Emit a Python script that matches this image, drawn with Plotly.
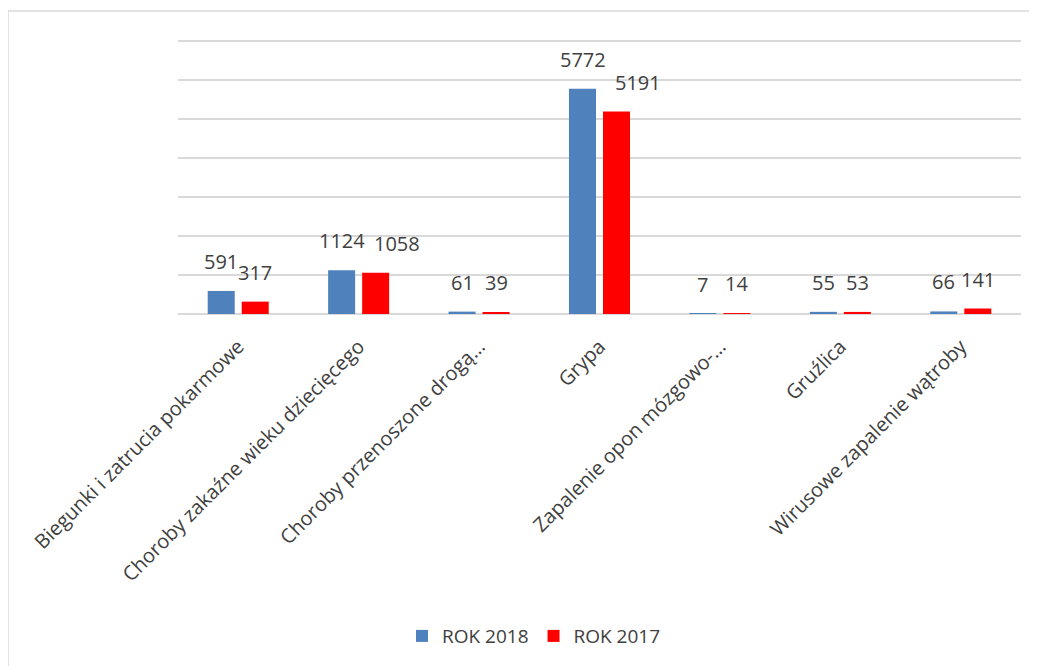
import plotly.graph_objects as go

categories = [
    "Biegunki i zatrucia pokarmowe",
    "Choroby zakaźne wieku dziecięcego",
    "Choroby przenoszone drogą…",
    "Grypa",
    "Zapalenie opon mózgowo-…",
    "Gruźlica",
    "Wirusowe zapalenie wątroby",
]
rok_2018 = [591, 1124, 61, 5772, 7, 55, 66]
rok_2017 = [317, 1058, 39, 5191, 14, 53, 141]
series_names = ["ROK 2018", "ROK 2017"]

BLUE = "#4F81BD"
RED = "#FF0000"
TXT = "#404040"
FONT = "Open Sans"

# label nudges (style only): Excel pushes colliding labels to the right
label_nudge = {("ROK 2017", 1): 21, ("ROK 2017", 3): 21}

fig = go.Figure()
fig.add_trace(go.Bar(x=categories, y=rok_2018, name=series_names[0],
                     marker=dict(color=BLUE, line=dict(width=0))))
fig.add_trace(go.Bar(x=categories, y=rok_2017, name=series_names[1],
                     marker=dict(color=RED, line=dict(width=0))))

annotations = []
for name, vals, shift in ((series_names[0], rok_2018, -17), (series_names[1], rok_2017, 17)):
    for i, (c, v) in enumerate(zip(categories, vals)):
        annotations.append(dict(
            x=c, y=v, xref="x", yref="y", text=str(v), showarrow=False,
            xshift=shift + label_nudge.get((name, i), 0), yshift=14,
            yanchor="bottom", xanchor="center",
            font=dict(family=FONT, size=20, color=TXT)))

OFF = 8  # page body margin
W, H = 1037 - OFF, 666 - OFF
Y_MAX = 7050
# plot area in reference pixel coordinates (7000 gridline at y=41, 0 at y=314)
PX0, PX1, PY1 = 178, 1021, 314
PY0 = PY1 - (PY1 - 41) * Y_MAX / 7000
L, R, T, B = PX0 - OFF, W - (PX1 - OFF), PY0 - OFF, H - (PY1 - OFF)
pw, ph = PX1 - PX0, PY1 - PY0

def px(x):
    return (x - PX0) / pw

def py(y):
    return (PY1 - y) / ph

fig.update_layout(
    width=W, height=H,
    margin=dict(l=L, r=R, t=T, b=B, autoexpand=False),
    paper_bgcolor="white", plot_bgcolor="white",
    barmode="group", bargap=0.435, bargroupgap=0.206,
    showlegend=True,
    legend=dict(orientation="h", x=px(534), y=py(636), xanchor="center", yanchor="middle",
                font=dict(family=FONT, size=19, color=TXT), itemwidth=30,
                traceorder="normal"),
    annotations=annotations,
    shapes=[dict(type="rect", xref="paper", yref="paper",
                 x0=px(8), x1=px(1050), y0=py(690), y1=py(11),
                 line=dict(color="#D9D9D9", width=1.5), fillcolor="rgba(0,0,0,0)", layer="below")],
    xaxis=dict(tickangle=-45, tickfont=dict(family=FONT, size=20, color=TXT),
               showgrid=False, showline=False, ticks="", ticklabelstandoff=16),
    yaxis=dict(range=[0, Y_MAX], tick0=0, dtick=1000, showticklabels=False, showgrid=True,
               gridcolor="#D9D9D9", gridwidth=1.5, zeroline=True, zerolinecolor="#D9D9D9",
               zerolinewidth=1.5, showline=False, ticks=""),
)

fig.write_html("out.html")
